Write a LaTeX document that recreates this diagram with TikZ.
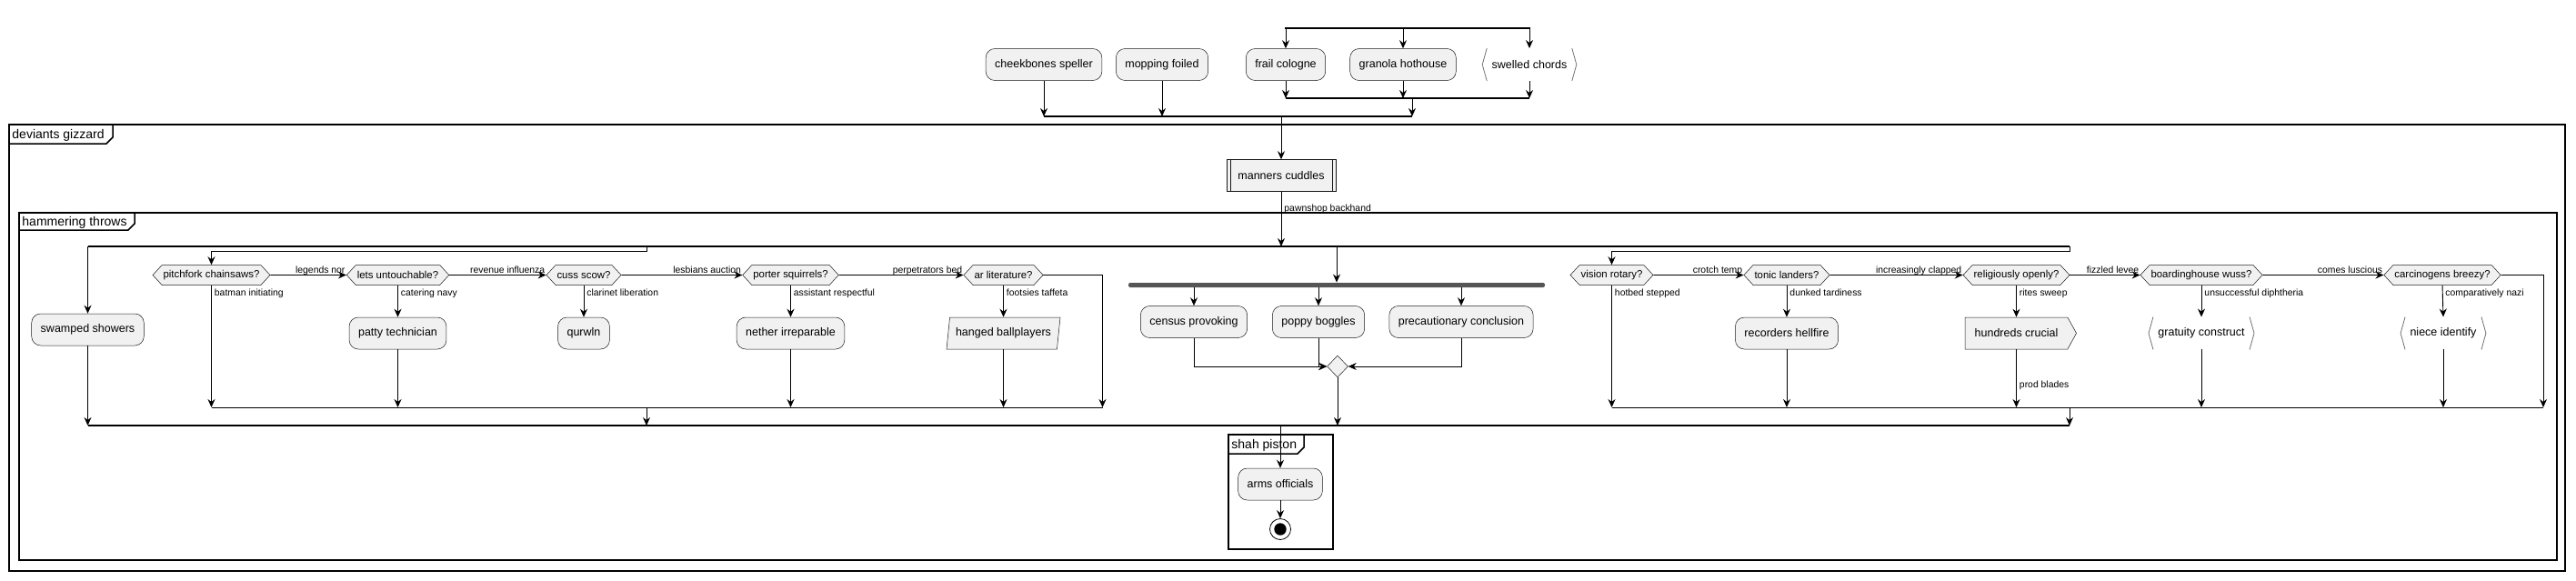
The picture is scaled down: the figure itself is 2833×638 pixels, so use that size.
\documentclass[tikz,border=0pt]{standalone}
\usepackage{fontspec}
\setmainfont{Liberation Sans}
\usetikzlibrary{arrows.meta,shapes.geometric,shapes.symbols,calc}
\definecolor{actfill}{HTML}{F1F1F1}
\definecolor{actline}{HTML}{181818}
\definecolor{forkgray}{HTML}{555555}
\newcommand\actfont{\fontsize{12.5}{15}\selectfont}
\newcommand\hexfont{\fontsize{11.4}{13}\selectfont}
\newcommand\lblfont{\fontsize{10.4}{12}\selectfont}
\newcommand\frmfont{\fontsize{14}{16}\selectfont}

\begin{document}
\begin{tikzpicture}[x=1pt, y=-1pt, line width=0.9pt,
    >={Stealth[length=9pt,width=8pt,inset=3pt]},
    act/.style={draw=actline, line width=0.5pt, fill=actfill, rectangle, rounded corners=10pt,
      minimum height=35pt, inner xsep=10pt, font=\actfont},
    subproc/.style={draw=actline, line width=0.5pt, fill=actfill, rectangle,
      minimum height=35pt, inner xsep=12.5pt, font=\actfont},
    brk/.style={rectangle, fill=white, minimum height=35pt, inner xsep=10pt, font=\actfont},
    brkline/.style={draw=black!55, line width=0.8pt},
    hexa/.style={draw=actline, line width=0.5pt, fill=actfill, signal, signal to=east and west,
      signal pointer angle=95, minimum height=22pt, inner xsep=1.5pt, inner ysep=0pt, font=\hexfont},
    arrowbox/.style={draw=actline, line width=0.5pt, fill=actfill, signal, signal to=east,
      signal pointer angle=122, minimum height=35pt, inner xsep=10.5pt, font=\actfont},
    para/.style={draw=actline, line width=0.5pt, fill=actfill, trapezium, trapezium left angle=79,
      trapezium right angle=101, trapezium stretches body, minimum width=125pt, minimum height=35pt,
      font=\actfont},
    merge/.style={draw=actline, line width=0.5pt, fill=actfill, diamond, minimum width=23pt,
      minimum height=24pt, inner sep=0pt},
    forkbar/.style={fill=forkgray, rounded corners=2pt, minimum width=458pt, minimum height=5pt, inner sep=0pt},
    bar/.style={line width=1.6pt},
    frm/.style={draw=black, line width=1.5pt},
    frmlabel/.style={anchor=base west, inner sep=0pt, font=\frmfont},
    elbl/.style={pos=1, anchor=base east, inner sep=0pt, xshift=-1pt, yshift=2.5pt, font=\lblfont},
    dlbl/.style={pos=0, anchor=north west, inner sep=0pt, xshift=3pt, yshift=-4pt, font=\lblfont}]

    \useasboundingbox (0,0) rectangle (2833,638);

    % Frames
    \draw[frm] (10,137) rectangle (2821,628);
    \draw[frm] (10,158) -- (117,158) -- (124,151) -- (124,137);
    \node[frmlabel] (devtitle) at (13,152.5) {deviants gizzard};
    \draw[frm] (21,234) rectangle (2812,616);
    \draw[frm] (21,253) -- (141,253) -- (148,246) -- (148,234);
    \node[frmlabel] (hamtitle) at (24,248.5) {hammering throws};
    \draw[frm] (1351,478) rectangle (1466,604);
    \draw[frm] (1351,499) -- (1427,499) -- (1434,492) -- (1434,478);
    \node[frmlabel] (shahtitle) at (1354,493.5) {shah piston};

    % Top split
    \node[act] (cheek) at (1148,71) {cheekbones speller};
    \node[act] (mopping) at (1278,71) {mopping foiled};
    \node[act] (frail) at (1414,71) {frail cologne};
    \node[act] (granola) at (1543,71) {granola hothouse};
    \node[brk] (swelled) at (1682,71) {swelled chords};
    \draw[brkline] ($(swelled.north west)+(5,0)$) -- (swelled.west) -- ($(swelled.south west)+(5,0)$);
    \draw[brkline] ($(swelled.north east)+(-5,0)$) -- (swelled.east) -- ($(swelled.south east)+(-5,0)$);

    \coordinate (tsplitL) at (1413,31);
    \coordinate (tsplitR) at (1683,31);
    \coordinate (tjoinL) at (1414,108);
    \coordinate (tjoinR) at (1682,108);
    \coordinate (tjoinout) at (1553,108);
    \coordinate (bjoinL) at (1148,128);
    \coordinate (bjoinR) at (1553,128);

    \draw[bar] (tsplitL) -- (tsplitR);
    \draw[->] (frail.north |- tsplitL) -- (frail.north);
    \draw[->] (granola.north |- tsplitL) -- (granola.north);
    \draw[->] (swelled.north |- tsplitL) -- (swelled.north);
    \draw[bar] (tjoinL) -- (tjoinR);
    \draw[->] (frail.south) -- (frail.south |- tjoinL);
    \draw[->] (granola.south) -- (granola.south |- tjoinL);
    \draw[->] (swelled.south) -- (swelled.south |- tjoinL);
    \draw[->] (tjoinout) -- (tjoinout |- bjoinL);
    \draw[bar] (bjoinL) -- (bjoinR);
    \draw[->] (cheek.south) -- (cheek.south |- bjoinL);
    \draw[->] (mopping.south) -- (mopping.south |- bjoinL);

    % Subprocess
    \node[subproc] (manners) at (1409,193) {manners cuddles};
    \draw[line width=0.5pt, actline] ($(manners.north west)+(4.5,0)$) -- ($(manners.south west)+(4.5,0)$);
    \draw[line width=0.5pt, actline] ($(manners.north east)+(-4.5,0)$) -- ($(manners.south east)+(-4.5,0)$);
    \draw[->] (manners.north |- bjoinL) -- (manners.north);

    % Main split
    \coordinate (msplitL) at (96.5,271);
    \coordinate (msplitR) at (2276,271);
    \coordinate (lbranch) at (711,271);
    \draw[bar] (msplitL) -- (msplitR);
    \draw[->] (manners.south) -- (manners.south |- msplitL)
        node[pos=0.31, anchor=west, inner sep=0pt, xshift=3pt, font=\lblfont] (pawn) {pawnshop backhand};

    \coordinate (mjoinL) at (96.5,468);
    \coordinate (mjoinR) at (2276,468);
    \coordinate (mjoinout) at (1408,468);

    % Left branch
    \node[act] (swamped) at (96.5,362.5) {swamped showers};
    \draw[->] (swamped.north |- msplitL) -- (swamped.north);
    \draw[->] (swamped.south) -- (swamped.south |- mjoinL);

    % Left if chain
    \node[hexa] (pitch) at (232.5,302.5) {pitchfork chainsaws?};
    \node[hexa] (lets) at (437.5,302.5) {lets untouchable?};
    \node[hexa] (cuss) at (642,302.5) {cuss scow?};
    \node[hexa] (porter) at (869.5,302.5) {porter squirrels?};
    \node[hexa] (arlit) at (1103.5,302.5) {ar literature?};
    \node[act] (patty) at (437.5,366.5) {patty technician};
    \node[act] (qurwln) at (642,366.5) {qurwln};
    \node[act] (nether) at (869.5,366.5) {nether irreparable};
    \node[para] (hanged) at (1103.5,366.5) {hanged ballplayers};

    \coordinate (lchainL) at (232.5,448);
    \coordinate (lchainR) at (1212.5,448);
    \coordinate (lchainout) at (711,448);
    \draw[->] (lbranch) -- ++(0,5) -| (pitch.north);
    \draw[->] (pitch) -- (lets) node[elbl] (lbl1) {legends nor};
    \draw[->] (lets) -- (cuss) node[elbl] (lbl2) {revenue influenza};
    \draw[->] (cuss) -- (porter) node[elbl] (lbl3) {lesbians auction};
    \draw[->] (porter) -- (arlit) node[elbl] (lbl4) {perpetrators bed};
    \draw[->] (pitch.south) -- (pitch.south |- lchainL) node[dlbl] (lbl5) {batman initiating};
    \draw[->] (lets.south) -- (patty.north) node[dlbl] (lbl6) {catering navy};
    \draw[->] (cuss.south) -- (qurwln.north) node[dlbl] (lbl7) {clarinet liberation};
    \draw[->] (porter.south) -- (nether.north) node[dlbl] (lbl8) {assistant respectful};
    \draw[->] (arlit.south) -- (hanged.north) node[dlbl] (lbl9) {footsies taffeta};
    \draw[->] (patty.south) -- (patty.south |- lchainL);
    \draw[->] (nether.south) -- (nether.south |- lchainL);
    \draw[->] (hanged.south) -- (hanged.south |- lchainL);
    \draw[->] (arlit.east) -| (lchainR);
    \draw (lchainL) -- (lchainR);
    \draw[->] (lchainout) -- (lchainout |- mjoinL);

    % Fork
    \node[forkbar] (fork) at (1470,313.5) {};
    \node[act] (census) at (1313,354) {census provoking};
    \node[act] (poppy) at (1450,354) {poppy boggles};
    \node[act] (precaut) at (1607,354) {precautionary conclusion};
    \node[merge] (mergept) at (1471,403) {};
    \draw[->] (fork.north |- msplitL) -- (fork.north);
    \draw[->] (census.north |- fork.south) -- (census.north);
    \draw[->] (poppy.north |- fork.south) -- (poppy.north);
    \draw[->] (precaut.north |- fork.south) -- (precaut.north);
    \draw[->] (census.south) |- (mergept.west);
    \draw[->] (poppy.south) |- (mergept.west);
    \draw[->] (precaut.south) |- (mergept.east);
    \draw[->] (mergept.south) -- (mergept.south |- mjoinL);

    % Right if chain
    \node[hexa] (vision) at (1772.5,302.5) {vision rotary?};
    \node[hexa] (tonic) at (1965,302.5) {tonic landers?};
    \node[hexa] (relig) at (2217.5,302.5) {religiously openly?};
    \node[hexa] (boarding) at (2421,302.5) {boardinghouse wuss?};
    \node[hexa] (carcin) at (2686,302.5) {carcinogens breezy?};
    \node[act] (recorders) at (1965,366.5) {recorders hellfire};
    \node[arrowbox] (hundreds) at (2217.5,366.5) {hundreds crucial};
    \node[brk] (gratuity) at (2421,366.5) {gratuity construct};
    \node[brk] (niece) at (2687,366.5) {niece identify};
    \draw[brkline] ($(gratuity.north west)+(5,0)$) -- (gratuity.west) -- ($(gratuity.south west)+(5,0)$);
    \draw[brkline] ($(gratuity.north east)+(-5,0)$) -- (gratuity.east) -- ($(gratuity.south east)+(-5,0)$);
    \draw[brkline] ($(niece.north west)+(5,0)$) -- (niece.west) -- ($(niece.south west)+(5,0)$);
    \draw[brkline] ($(niece.north east)+(-5,0)$) -- (niece.east) -- ($(niece.south east)+(-5,0)$);

    \coordinate (rchainL) at (1772.5,448);
    \coordinate (rchainR) at (2797,448);
    \coordinate (rchainout) at (2276,448);
    \draw[->] (msplitR) -- ++(0,5) -| (vision.north);
    \draw[->] (vision) -- (tonic) node[elbl] (lbl10) {crotch temp};
    \draw[->] (tonic) -- (relig) node[elbl] (lbl11) {increasingly clapped};
    \draw[->] (relig) -- (boarding) node[elbl] (lbl12) {fizzled levee};
    \draw[->] (boarding) -- (carcin) node[elbl] (lbl13) {comes luscious};
    \draw[->] (vision.south) -- (vision.south |- rchainL) node[dlbl] (lbl14) {hotbed stepped};
    \draw[->] (tonic.south) -- (recorders.north) node[dlbl] (lbl15) {dunked tardiness};
    \draw[->] (relig.south) -- (hundreds.north) node[dlbl] (lbl16) {rites sweep};
    \draw[->] (boarding.south) -- (gratuity.north) node[dlbl] (lbl17) {unsuccessful diphtheria};
    \draw[->] (carcin.south) -- (niece.north) node[dlbl] (lbl18) {comparatively nazi};
    \draw[->] (recorders.south) -- (recorders.south |- rchainL);
    \draw[->] (hundreds.south) -- (hundreds.south |- rchainL)
        node[pos=0.66, anchor=base west, inner sep=0pt, xshift=3pt, font=\lblfont] (lbl19) {prod blades};
    \draw[->] (gratuity.south) -- (gratuity.south |- rchainL);
    \draw[->] (niece.south) -- (niece.south |- rchainL);
    \draw[->] (carcin.east) -| (rchainR);
    \draw (rchainL) -- (rchainR);
    \draw[->] (rchainout) -- (rchainout |- mjoinL);

    % Main join
    \draw[bar] (mjoinL) -- (mjoinR);
    \node[act] (arms) at (1408,532.5) {arms officials};
    \node[draw, circle, line width=0.8pt, fill=white, minimum size=23pt, inner sep=0pt] (stop) at (1408,582) {};
    \node[circle, fill=black, minimum size=13.4pt, inner sep=0pt] (stopdot) at (stop.center) {};
    \draw[->] (mjoinout) -- (arms.north);
    \draw[->] (arms.south) -- (stop.north);
\end{tikzpicture}
\end{document}
